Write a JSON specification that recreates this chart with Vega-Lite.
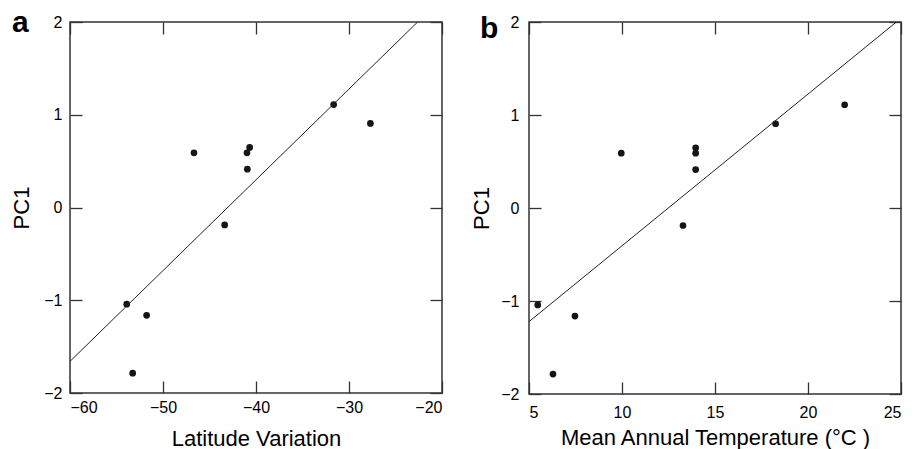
{
  "$schema": "https://vega.github.io/schema/vega-lite/v6.json",
  "autosize": {"type": "pad"},
  "padding": {"left": 10, "top": 7, "right": 5, "bottom": 2},
  "background": "white",
  "config": {
    "font": "Liberation Sans",
    "view": {"stroke": "#333333", "strokeWidth": 1.5},
    "axis": {
      "domain": false,
      "grid": false,
      "ticks": true,
      "tickSize": -12,
      "tickColor": "#333333",
      "tickWidth": 1.3,
      "labelFont": "Liberation Sans",
      "labelFontSize": 16,
      "labelColor": "#000000",
      "titleFont": "Liberation Sans",
      "titleFontSize": 22,
      "titleFontWeight": "normal",
      "titleColor": "#000000"
    },
    "title": {"font": "Liberation Sans", "fontSize": 30, "fontWeight": "bold", "color": "#000000"}
  },
  "datasets": {
    "pts": [
      {"lat": -31.65, "temp": 21.97, "pc1": 1.11},
      {"lat": -27.7, "temp": 18.26, "pc1": 0.906},
      {"lat": -46.67, "temp": 9.96, "pc1": 0.59},
      {"lat": -40.68, "temp": 13.96, "pc1": 0.648},
      {"lat": -40.97, "temp": 13.96, "pc1": 0.59},
      {"lat": -40.93, "temp": 13.96, "pc1": 0.413},
      {"lat": -43.37, "temp": 13.28, "pc1": -0.188},
      {"lat": -53.9, "temp": 5.47, "pc1": -1.042},
      {"lat": -51.76, "temp": 7.47, "pc1": -1.162},
      {"lat": -53.26, "temp": 6.29, "pc1": -1.786}
    ],
    "lineA": [
      {"lat": -60, "pc1": -1.659},
      {"lat": -22.62, "pc1": 2}
    ],
    "lineB": [
      {"temp": 5, "pc1": -1.222},
      {"temp": 24.75, "pc1": 2}
    ]
  },
  "spacing": 26,
  "hconcat": [
    {
      "width": 372,
      "height": 371,
      "title": {"text": "a", "anchor": "start", "frame": "group", "dx": -58, "dy": 8, "offset": -40, "baseline": "alphabetic"},
      "layer": [
        {
          "data": {"name": "pts"},
          "mark": {"type": "circle", "size": 45, "color": "#151515", "opacity": 1},
          "encoding": {
            "x": {"field": "lat", "type": "quantitative", "scale": {"domain": [-60, -20], "nice": false, "zero": false},
                  "axis": {"orient": "bottom", "values": [-60, -50, -40, -30, -20], "title": "Latitude Variation", "labelPadding": 18, "titlePadding": 13}},
            "y": {"field": "pc1", "type": "quantitative", "scale": {"domain": [-2, 2], "nice": false, "zero": false},
                  "axis": {"orient": "left", "values": [-2, -1, 0, 1, 2], "title": "PC1", "labelPadding": 20, "titlePadding": 10}}
          }
        },
        {
          "data": {"name": "lineA"},
          "mark": {"type": "line", "color": "#222222", "strokeWidth": 1, "clip": true},
          "encoding": {
            "x": {"field": "lat", "type": "quantitative", "scale": {"domain": [-60, -20], "nice": false, "zero": false},
                  "axis": {"orient": "top", "values": [-60, -50, -40, -30, -20], "labels": false, "title": null}},
            "y": {"field": "pc1", "type": "quantitative", "scale": {"domain": [-2, 2], "nice": false, "zero": false},
                  "axis": {"orient": "right", "values": [-2, -1, 0, 1, 2], "labels": false, "title": null}}
          }
        }
      ],
      "resolve": {"axis": {"x": "independent", "y": "independent"}}
    },
    {
      "width": 372,
      "height": 372,
      "title": {"text": "b", "anchor": "start", "frame": "group", "dx": -49, "dy": 14, "offset": -40, "baseline": "alphabetic"},
      "layer": [
        {
          "data": {"name": "pts"},
          "mark": {"type": "circle", "size": 45, "color": "#151515", "opacity": 1},
          "encoding": {
            "x": {"field": "temp", "type": "quantitative", "scale": {"domain": [5, 25], "nice": false, "zero": false},
                  "axis": {"orient": "bottom", "values": [5, 10, 15, 20, 25], "title": "Mean Annual Temperature (°C )", "labelPadding": 22, "titlePadding": 7}},
            "y": {"field": "pc1", "type": "quantitative", "scale": {"domain": [-2, 2], "nice": false, "zero": false},
                  "axis": {"orient": "left", "values": [-2, -1, 0, 1, 2], "title": "PC1", "labelPadding": 22, "titlePadding": 7}}
          }
        },
        {
          "data": {"name": "lineB"},
          "mark": {"type": "line", "color": "#222222", "strokeWidth": 1, "clip": true},
          "encoding": {
            "x": {"field": "temp", "type": "quantitative", "scale": {"domain": [5, 25], "nice": false, "zero": false},
                  "axis": {"orient": "top", "values": [5, 10, 15, 20, 25], "labels": false, "title": null}},
            "y": {"field": "pc1", "type": "quantitative", "scale": {"domain": [-2, 2], "nice": false, "zero": false},
                  "axis": {"orient": "right", "values": [-2, -1, 0, 1, 2], "labels": false, "title": null}}
          }
        }
      ],
      "resolve": {"axis": {"x": "independent", "y": "independent"}}
    }
  ]
}
